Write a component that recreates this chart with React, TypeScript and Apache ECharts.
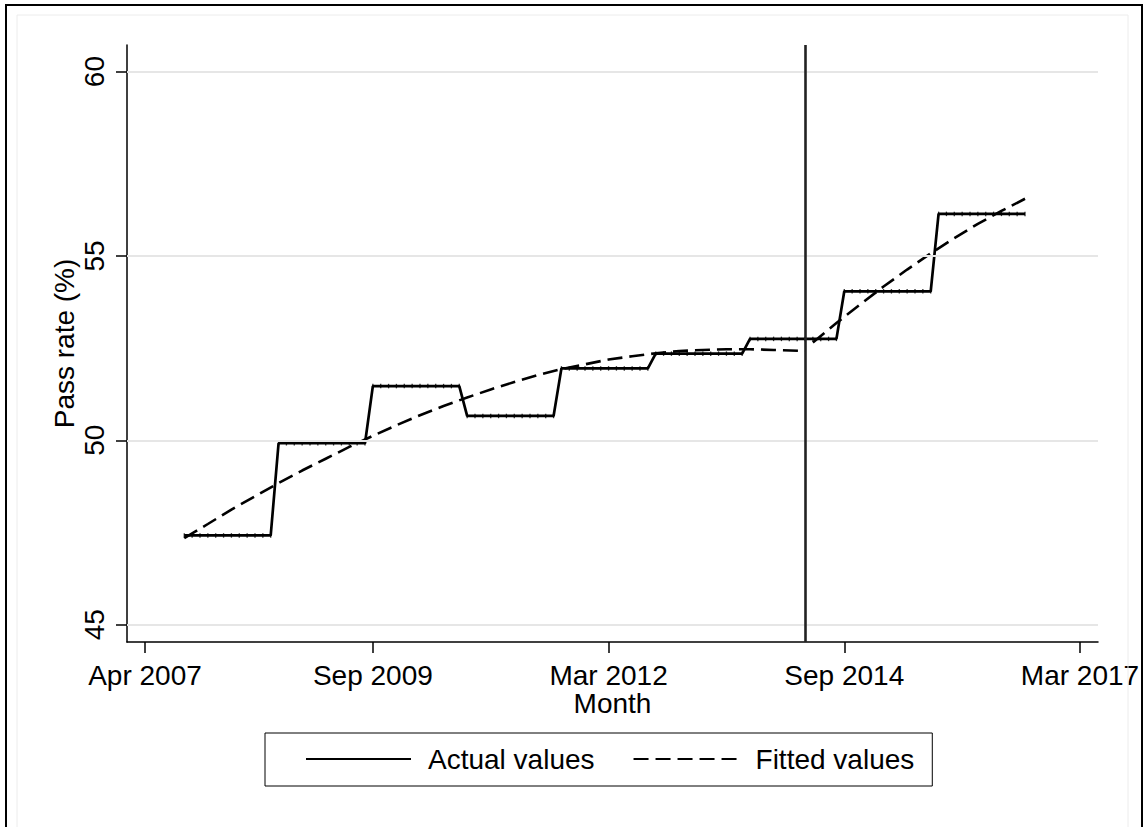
import React, { useEffect, useRef } from "react";
import * as echarts from "echarts";

// Stata-style monthly dates: months since Jan 1960
const monthNames = ["Jan", "Feb", "Mar", "Apr", "May", "Jun", "Jul", "Aug", "Sep", "Oct", "Nov", "Dec"];
const xTickMonths = [567, 596, 626, 656, 686];
const yTickValues = [45, 50, 55, 60];

// Academic years start in September; each value holds for 12 months
const yearStartMonths = [572, 584, 596, 608, 620, 632, 644, 656, 668];
const actualValues = [47.42, 49.92, 51.47, 50.66, 51.95, 52.35, 52.75, 54.04, 56.14];

// Fitted values
const fittedPreMonths = [572, 575, 578, 581, 584, 587, 590, 593, 596, 599, 602, 605, 608, 611, 614, 617, 620, 623, 626, 629, 632, 635, 638, 641, 644, 647, 651];
const fittedPreValues = [47.35, 47.73, 48.12, 48.48, 48.84, 49.18, 49.5, 49.82, 50.12, 50.41, 50.68, 50.93, 51.16, 51.38, 51.58, 51.77, 51.93, 52.06, 52.19, 52.28, 52.36, 52.42, 52.45, 52.47, 52.47, 52.45, 52.42];
const fittedPostMonths = [652, 655, 658, 661, 664, 667, 670, 673, 676, 679];
const fittedPostValues = [52.65, 53.18, 53.68, 54.17, 54.63, 55.07, 55.48, 55.87, 56.22, 56.55];

const interventionMonth = 651;

const FONT = "'Liberation Sans', Arial, Helvetica, sans-serif";
const FS = 28;
const DASH = [15, 7];

export default function App() {
  const ref = useRef<HTMLDivElement>(null);

  useEffect(() => {
    if (!ref.current) return;
    const chart = echarts.init(ref.current, undefined, { renderer: "svg" });

    const actualData: [number, number][] = [];
    yearStartMonths.forEach((start, i) => {
      for (let k = 0; k < 12; k++) actualData.push([start + k, actualValues[i]]);
    });
    const fittedPre = fittedPreMonths.map((m, i) => [m, fittedPreValues[i]]);
    const fittedPost = fittedPostMonths.map((m, i) => [m, fittedPostValues[i]]);

    const fmtMonth = (v: number) => monthNames[((v % 12) + 12) % 12] + " " + (1960 + Math.floor(v / 12));

    const option: any = {
      animation: false,
      backgroundColor: "#ffffff",
      textStyle: { fontFamily: FONT, color: "#000" },
      grid: { left: 127, top: 45, width: 971, height: 597, containLabel: false },
      xAxis: {
        type: "value",
        min: 564.71,
        max: 688.29,
        name: "Month",
        nameLocation: "middle",
        nameGap: 47,
        nameMoveOverlap: false,
        nameTextStyle: { fontSize: FS, color: "#000", fontFamily: FONT },
        axisLine: { show: true, onZero: false, lineStyle: { color: "#000", width: 1.5 } },
        axisTick: { show: true, length: 11, lineStyle: { color: "#000", width: 1.5 }, customValues: xTickMonths },
        axisLabel: { show: true, fontSize: FS, color: "#000", margin: 19, fontFamily: FONT, customValues: xTickMonths, formatter: fmtMonth },
        splitLine: { show: false },
      },
      yAxis: {
        type: "value",
        min: 44.53,
        max: 60.72,
        name: "Pass rate (%)",
        nameLocation: "middle",
        nameRotate: 90,
        nameGap: 49,
        nameMoveOverlap: false,
        nameTextStyle: { fontSize: FS, color: "#000", fontFamily: FONT },
        axisLine: { show: true, onZero: false, lineStyle: { color: "#000", width: 1.5 } },
        axisTick: { show: true, length: 11, lineStyle: { color: "#000", width: 1.5 }, customValues: yTickValues },
        axisLabel: { show: true, fontSize: FS, color: "#000", margin: 19, rotate: 90, fontFamily: FONT, customValues: yTickValues },
        splitLine: { show: false },
      },
      legend: {
        data: ["Actual values", "Fitted values"],
        left: 265,
        top: 733,
        orient: "horizontal",
        padding: [12, 18, 13, 40],
        itemGap: 38,
        itemWidth: 105,
        itemHeight: 2,
        itemStyle: { opacity: 0 },
        borderColor: "#000",
        borderWidth: 1,
        borderRadius: 0,
        textStyle: { fontSize: FS, color: "#000", fontFamily: FONT, padding: [0, 0, 0, 12] },
      },
      graphic: [
        {
          type: "rect",
          shape: { x: 6, y: 5, width: 1136, height: 840 },
          style: { fill: "none", stroke: "#000", lineWidth: 2 },
          silent: true,
          z: 100,
        },
        {
          type: "rect",
          shape: { x: 17, y: 15, width: 1111, height: 830 },
          style: { fill: "none", stroke: "#ececec", lineWidth: 1 },
          silent: true,
          z: 100,
        },
      ],
      series: [
        {
          name: "guides",
          type: "line",
          data: [],
          z: 1,
          silent: true,
          markLine: {
            silent: true,
            symbol: ["none", "none"],
            label: { show: false },
            animation: false,
            data: [
              ...yTickValues.map((v) => ({ yAxis: v, lineStyle: { color: "#e6e6e6", width: 2, type: "solid" } })),
              { xAxis: interventionMonth, lineStyle: { color: "#222", width: 2.6, type: "solid" } },
            ],
          },
        },
        {
          name: "Actual values",
          type: "line",
          data: actualData,
          symbol: "none",
          lineStyle: { color: "#000", width: 2.7, type: "solid" },
          itemStyle: { color: "#000" },
          z: 3,
        },
        {
          name: "actual markers",
          type: "scatter",
          data: actualData,
          symbol: "rect",
          symbolSize: [1.3, 4.5],
          itemStyle: { color: "#000" },
          z: 4,
          silent: true,
        },
        {
          name: "Fitted values",
          type: "line",
          data: fittedPre,
          symbol: "none",
          lineStyle: { color: "#000", width: 2.6, type: DASH },
          itemStyle: { color: "#000" },
          z: 3,
        },
        {
          name: "Fitted values",
          type: "line",
          data: fittedPost,
          symbol: "none",
          lineStyle: { color: "#000", width: 2.6, type: DASH },
          itemStyle: { color: "#000" },
          z: 3,
        },
      ],
    };

    chart.setOption(option);
    return () => chart.dispose();
  }, []);

  return (
    <div
      ref={ref}
      style={{ position: "absolute", left: 0, top: 0, width: 1144, height: 827, background: "#fff" }}
    />
  );
}
